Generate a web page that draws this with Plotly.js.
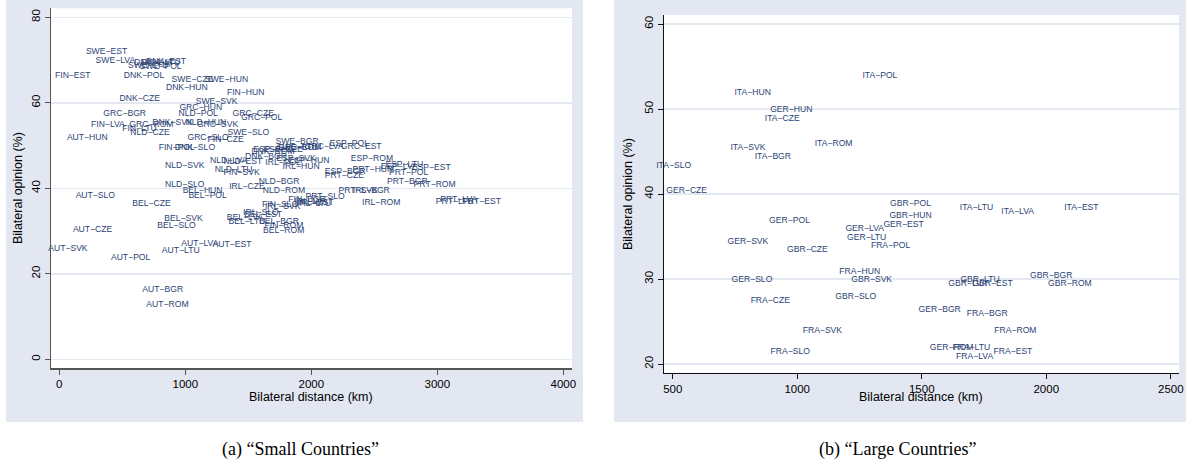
<!DOCTYPE html>
<html>
<head>
<meta charset="utf-8">
<script src="https://cdn.plot.ly/plotly-3.0.1.min.js"></script>
<style>html,body{margin:0;padding:0;background:#fff;}#chart{width:1188px;height:468px;}</style>
</head>
<body>
<div id="chart"></div>
<script>
// ---- Panel (a): Small countries ----
const smallLabels = [
 "AUT−BGR","AUT−CZE","AUT−EST","AUT−HUN","AUT−LTU","AUT−LVA","AUT−POL","AUT−ROM","AUT−SLO","AUT−SVK",
 "BEL−BGR","BEL−CZE","BEL−EST","BEL−HUN","BEL−LTU","BEL−LVA","BEL−POL","BEL−ROM","BEL−SLO","BEL−SVK",
 "DNK−BGR","DNK−CZE","DNK−EST","DNK−HUN","DNK−LTU","DNK−LVA","DNK−POL","DNK−ROM","DNK−SLO","DNK−SVK",
 "ESP−BGR","ESP−CZE","ESP−EST","ESP−HUN","ESP−LTU","ESP−LVA","ESP−POL","ESP−ROM","ESP−SLO","ESP−SVK",
 "FIN−BGR","FIN−CZE","FIN−EST","FIN−HUN","FIN−LTU","FIN−LVA","FIN−POL","FIN−ROM","FIN−SLO","FIN−SVK",
 "GRC−BGR","GRC−CZE","GRC−EST","GRC−HUN","GRC−LTU","GRC−LVA","GRC−POL","GRC−ROM","GRC−SLO","GRC−SVK",
 "IRL−BGR","IRL−CZE","IRL−EST","IRL−HUN","IRL−LTU","IRL−LVA","IRL−POL","IRL−ROM","IRL−SLO","IRL−SVK",
 "NLD−BGR","NLD−CZE","NLD−EST","NLD−HUN","NLD−LTU","NLD−LVA","NLD−POL","NLD−ROM","NLD−SLO","NLD−SVK",
 "PRT−BGR","PRT−CZE","PRT−EST","PRT−HUN","PRT−LTU","PRT−LVA","PRT−POL","PRT−ROM","PRT−SLO","PRT−SVK",
 "SWE−BGR","SWE−CZE","SWE−EST","SWE−HUN","SWE−LTU","SWE−LVA","SWE−POL","SWE−ROM","SWE−SLO","SWE−SVK"
];
const smallDistance = [
 821,264,1370,222,964,1115,566,858,286,68,
 1744,731,1616,1137,1489,1473,1177,1781,930,986,
 1640,638,847,1012,805,747,672,1696,1076,898,
 2269,1776,2953,1982,2738,2698,2301,2481,1696,1879,
 1966,1320,107,1479,636,386,932,1783,1752,1447,
 519,1539,2396,1123,1895,2102,1606,731,1181,1256,
 2476,1489,2038,1919,2022,1998,1776,2555,1600,1773,
 1744,720,1457,1163,1383,1344,1102,1783,996,996,
 2762,2263,3351,2489,3138,3170,2772,2979,2110,2372,
 1887,1057,375,1328,704,445,805,1903,1500,1248
];
const smallOpinion = [
 16.2,30.2,26.7,51.8,25.4,27.1,23.7,12.8,38.2,25.8,
 32.1,36.3,33.9,39.4,32.2,33.1,38.2,30.0,31.2,32.8,
 47.3,60.9,69.5,63.5,69.4,69.4,66.3,48.5,49.5,55.2,
 43.9,49.0,44.7,46.4,45.4,45.0,50.4,47.0,49.0,46.8,
 37.4,51.3,66.3,62.4,54.0,54.8,49.5,31.2,36.1,43.5,
 57.4,57.3,49.8,58.8,49.4,49.7,56.4,54.8,51.8,54.8,
 39.4,40.4,36.6,45.1,36.4,36.8,45.9,36.5,34.2,35.6,
 41.5,52.9,46.2,55.2,44.3,46.5,57.4,39.4,40.9,45.3,
 41.4,42.9,36.9,44.3,36.9,37.4,43.5,40.9,37.9,39.4,
 50.9,65.3,71.9,65.3,68.6,69.8,68.4,49.4,52.9,60.1
];

// ---- Panel (b): Large countries ----
const largeLabels = [
 "FRA−BGR","FRA−CZE","FRA−EST","FRA−HUN","FRA−LTU","FRA−LVA","FRA−POL","FRA−ROM","FRA−SLO","FRA−SVK",
 "GBR−BGR","GBR−CZE","GBR−EST","GBR−HUN","GBR−LTU","GBR−LVA","GBR−POL","GBR−ROM","GBR−SLO","GBR−SVK",
 "GER−BGR","GER−CZE","GER−EST","GER−HUN","GER−LTU","GER−LVA","GER−POL","GER−ROM","GER−SLO","GER−SVK",
 "ITA−BGR","ITA−CZE","ITA−EST","ITA−HUN","ITA−LTU","ITA−LVA","ITA−POL","ITA−ROM","ITA−SLO","ITA−SVK"
];
const largeDistance = [
 1763,892,1866,1251,1699,1712,1375,1876,972,1101,
 2020,1041,1784,1455,1734,1684,1455,2095,1235,1299,
 1572,556,1427,976,1279,1271,969,1620,818,802,
 902,940,2141,821,1720,1885,1332,1146,504,802
];
const largeOpinion = [
 25.9,27.4,21.4,30.9,21.9,20.9,33.9,23.9,21.4,23.9,
 30.35,33.4,29.4,37.4,29.9,29.4,38.9,29.4,27.9,29.9,
 26.35,40.4,36.35,49.9,34.9,35.9,36.9,21.9,29.9,34.4,
 44.4,48.9,38.35,51.9,38.4,37.85,53.9,45.9,43.3,45.4
];

const smallXTicks = [0,1000,2000,3000,4000];
const smallYTicks = [0,20,40,60,80];
const largeXTicks = [500,1000,1500,2000,2500];
const largeYTicks = [20,30,40,50,60];

const W = 1188, H = 468;
const px = v => v / W;
const py = v => (H - v) / H;

const labelColor = "#2b4374";
const labelFont = {family: "Liberation Sans, Arial, sans-serif", size: 8.6, color: labelColor};
const tickFont = {family: "Liberation Sans, Arial, sans-serif", size: 11.5, color: "#000"};
const titleFont = {family: "Liberation Sans, Arial, sans-serif", size: 12.5, color: "#000"};
const captionFont = {family: "Liberation Serif, DejaVu Serif, serif", size: 18, color: "#000"};
const bluegray = "#e3e7f1";
const gridColor = "#e4e8f1";

const traces = [
  {type: "scatter", mode: "text", x: smallDistance, y: smallOpinion, text: smallLabels,
   textposition: "middle center", textfont: labelFont, cliponaxis: false, xaxis: "x", yaxis: "y", hoverinfo: "skip"},
  {type: "scatter", mode: "text", x: largeDistance, y: largeOpinion, text: largeLabels,
   textposition: "middle center", textfont: labelFont, cliponaxis: false, xaxis: "x2", yaxis: "y2", hoverinfo: "skip"}
];

function axisBase(lineColor) {
  return {showline: true, linecolor: lineColor, linewidth: 1.2, ticks: "outside", ticklen: 5, tickwidth: 1,
          tickcolor: lineColor, tickfont: tickFont, zeroline: false, mirror: false, fixedrange: true};
}

function note(x, y, text, font, angle) {
  return {xref: "paper", yref: "paper", x: px(x), y: py(y), text: text, textangle: angle || 0,
          xanchor: "center", yanchor: "middle", showarrow: false, font: font};
}

const layout = {
  width: W, height: H,
  margin: {l: 0, r: 0, t: 0, b: 0},
  paper_bgcolor: "#ffffff",
  plot_bgcolor: "rgba(0,0,0,0)",
  showlegend: false,
  xaxis: Object.assign(axisBase("#555"), {domain: [px(51), px(572)], range: [-66, 4069],
          tickvals: smallXTicks, showgrid: false, anchor: "y"}),
  yaxis: Object.assign(axisBase("#555"), {domain: [py(368.3), py(8.3)], range: [-2.1, 82.1],
          tickvals: smallYTicks, tickangle: -90, showgrid: true, gridcolor: gridColor, gridwidth: 1.5, anchor: "x"}),
  xaxis2: Object.assign(axisBase("#111"), {domain: [px(664), px(1179)], range: [465, 2533],
          tickvals: largeXTicks, showgrid: false, anchor: "y2"}),
  yaxis2: Object.assign(axisBase("#111"), {domain: [py(372.7), py(15)], range: [18.98, 61.06],
          tickvals: largeYTicks, tickangle: -90, showgrid: true, gridcolor: gridColor, gridwidth: 1.5, anchor: "x2"}),
  shapes: [
    {type: "rect", xref: "paper", yref: "paper", x0: px(6), x1: px(583), y0: py(422), y1: py(0),
     fillcolor: bluegray, line: {width: 0}, layer: "below"},
    {type: "rect", xref: "paper", yref: "paper", x0: px(614), x1: px(1186), y0: py(422), y1: py(0),
     fillcolor: bluegray, line: {width: 0}, layer: "below"},
    {type: "rect", xref: "paper", yref: "paper", x0: px(51), x1: px(572), y0: py(368.3), y1: py(8.3),
     fillcolor: "#ffffff", line: {width: 0}, layer: "below"},
    {type: "rect", xref: "paper", yref: "paper", x0: px(664), x1: px(1179), y0: py(372.7), y1: py(15),
     fillcolor: "#ffffff", line: {width: 0}, layer: "below"}
  ],
  annotations: [
    note(18, 188, "Bilateral opinion (%)", titleFont, -90),
    note(311, 397, "Bilateral distance (km)", titleFont),
    note(628, 194, "Bilateral opinion (%)", titleFont, -90),
    note(921, 397, "Bilateral distance (km)", titleFont),
    note(300, 449, "(a) “Small Countries”", captionFont),
    note(898, 449, "(b) “Large Countries”", captionFont)
  ]
};

Plotly.newPlot("chart", traces, layout, {staticPlot: true, displayModeBar: false});
</script>
</body>
</html>
